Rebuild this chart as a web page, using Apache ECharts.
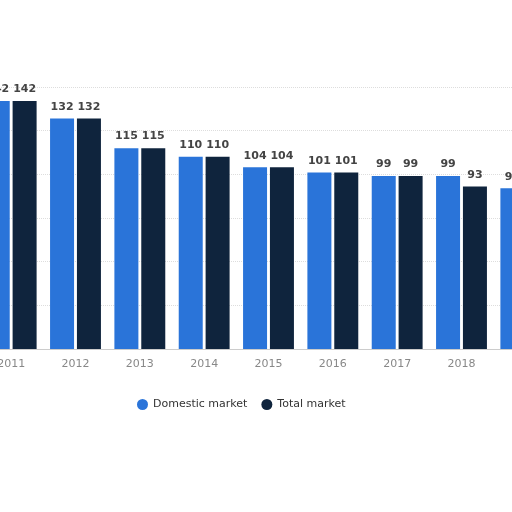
<!DOCTYPE html>
<html>
<head>
<meta charset="utf-8">
<script src="https://cdn.jsdelivr.net/npm/echarts@6/dist/echarts.min.js"></script>
<style>
  html, body { margin: 0; padding: 0; background: #fff; }
  #chart { width: 512px; height: 512px; }
</style>
</head>
<body>
<div id="chart"></div>
<script>
// years shown (the picture is cropped on both sides)
var years = ['2011', '2012', '2013', '2014', '2015', '2016', '2017', '2018', '2019'];
var domestic = [142, 132, 115, 110, 104, 101, 99, 99, 92];
var total = [142, 132, 115, 110, 104, 101, 99, 93, 88];

var chart = echarts.init(document.getElementById('chart'));

var labelStyle = {
  show: true,
  position: 'top',
  distance: 6,
  color: '#444',
  fontSize: 11,
  fontWeight: 'bold',
  fontFamily: 'DejaVu Sans'
};

var option = {
  backgroundColor: '#fff',
  animation: false,
  grid: {
    left: -21,
    width: 579,
    top: 87,
    bottom: 163,
    outerBoundsMode: 'none'
  },
  legend: {
    data: ['Domestic market', 'Total market'],
    left: 132,
    top: 394,
    icon: 'circle',
    itemWidth: 11,
    itemHeight: 11,
    itemGap: 14,
    textStyle: { color: '#333', fontSize: 11, fontFamily: 'DejaVu Sans' }
  },
  xAxis: {
    type: 'category',
    data: years,
    axisTick: { show: false },
    axisLine: { lineStyle: { color: '#ccc' } },
    axisLabel: { color: '#888', fontSize: 11, margin: 10, fontFamily: 'DejaVu Sans' }
  },
  yAxis: {
    type: 'value',
    min: 0,
    max: 150,
    interval: 25,
    axisLabel: { show: false },
    axisLine: { show: false },
    axisTick: { show: false },
    splitLine: { lineStyle: { color: '#ddd', type: 'dotted' } }
  },
  series: [{
    name: 'Domestic market',
    type: 'bar',
    data: domestic,
    barWidth: 24,
    barGap: '12%',
    itemStyle: { color: '#2a74d9' },
    label: labelStyle
  }, {
    name: 'Total market',
    type: 'bar',
    data: total,
    barWidth: 24,
    itemStyle: { color: '#0f243d' },
    label: labelStyle
  }]
};
chart.setOption(option);
</script>
</body>
</html>
